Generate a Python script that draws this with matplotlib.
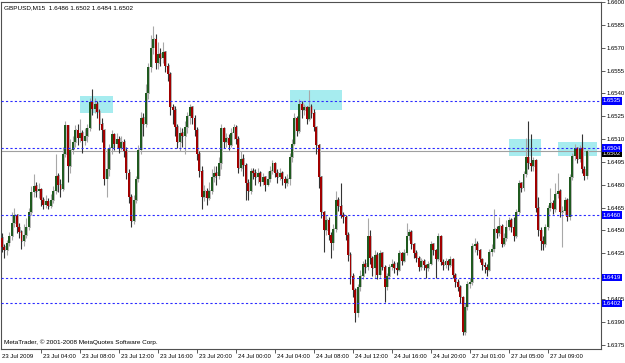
import matplotlib
matplotlib.use("Agg")
import matplotlib.pyplot as plt
from matplotlib.transforms import blended_transform_factory

# ---- data (prices in pips above 1.6000) ----
symbol_info = "GBPUSD,M15  1.6486 1.6502 1.6484 1.6502"
copyright_txt = "MetaTrader, \u00a9 2001-2008 MetaQuotes Software Corp."

first_open = 445
closes = [439, 437, 442, 446, 455, 460, 452, 449, 443, 447, 452, 462, 475, 479, 476, 477, 470, 467, 469, 466,
          470, 476, 486, 480, 477, 500, 519, 492, 503, 508, 516, 511, 514, 509, 512, 517, 534, 530, 533, 528,
          520, 516, 484, 490, 504, 513, 507, 510, 504, 508, 502, 488, 472, 456, 470, 484, 503, 524, 520, 540,
          557, 570, 576, 560, 566, 563, 567, 558, 553, 531, 529, 518, 508, 514, 512, 518, 525, 531, 524, 516,
          500, 489, 472, 476, 471, 476, 485, 488, 486, 494, 517, 508, 511, 506, 514, 518, 510, 491, 497, 493,
          481, 476, 489, 488, 485, 488, 482, 485, 480, 484, 489, 494, 488, 485, 488, 484, 481, 484, 498, 507,
          524, 515, 533, 529, 531, 523, 531, 527, 518, 506, 485, 462, 450, 457, 447, 442, 451, 470, 466, 460,
          459, 447, 434, 420, 411, 396, 413, 420, 428, 426, 446, 432, 425, 434, 421, 435, 426, 413, 420, 426,
          428, 425, 424, 435, 430, 435, 446, 449, 441, 435, 432, 426, 430, 427, 425, 428, 441, 437, 431, 446,
          429, 427, 430, 427, 431, 421, 416, 413, 406, 383, 400, 415, 416, 440, 441, 437, 431, 427, 426, 424,
          436, 438, 451, 448, 453, 441, 445, 452, 457, 452, 446, 462, 481, 478, 487, 498, 494, 492, 496, 465,
          450, 443, 441, 452, 465, 468, 464, 474, 476, 462, 463, 470, 459, 485, 499, 504, 497, 504, 490, 486,
          502]
highs = [448, 441, 444, 449, 462, 465, 461, 455, 450, 454, 458, 465, 479, 487, 482, 481, 478, 472, 473, 471,
         474, 479, 500, 488, 484, 505, 522, 519, 510, 512, 519, 520, 523, 516, 517, 520, 537, 543, 537, 535,
         530, 524, 515, 504, 507, 516, 514, 514, 512, 512, 510, 505, 490, 474, 473, 486, 506, 528, 527, 546,
         560, 578, 584, 579, 574, 570, 574, 568, 560, 554, 533, 532, 520, 518, 517, 522, 528, 533, 532, 526,
         518, 502, 492, 480, 478, 482, 490, 492, 492, 498, 520, 518, 514, 513, 517, 520, 519, 512, 502, 500,
         494, 484, 491, 491, 490, 491, 489, 488, 486, 489, 492, 496, 495, 490, 491, 489, 486, 487, 501, 510,
         527, 525, 536, 535, 533, 532, 542, 533, 530, 518, 507, 486, 463, 460, 459, 449, 454, 476, 472, 481,
         462, 460, 449, 436, 422, 412, 415, 424, 430, 431, 458, 450, 433, 437, 436, 437, 436, 427, 422, 428,
         431, 430, 429, 437, 436, 438, 455, 451, 450, 442, 437, 433, 432, 431, 428, 430, 443, 442, 438, 448,
         447, 431, 432, 431, 433, 432, 422, 418, 414, 407, 402, 417, 419, 442, 445, 443, 438, 432, 429, 428,
         438, 441, 464, 453, 459, 454, 448, 457, 459, 458, 459, 464, 483, 482, 489, 511, 522, 513, 498, 497,
         472, 452, 446, 454, 467, 478, 470, 481, 488, 477, 466, 472, 471, 487, 501, 507, 505, 506, 513, 492,
         502]
lows = [436, 432, 434, 440, 444, 452, 448, 445, 438, 440, 445, 450, 460, 472, 472, 471, 466, 464, 465, 464,
        465, 468, 474, 475, 472, 476, 498, 482, 488, 500, 505, 506, 508, 501, 506, 508, 515, 526, 527, 524,
        516, 508, 480, 472, 486, 500, 503, 504, 501, 503, 498, 484, 468, 452, 454, 468, 482, 500, 512, 518,
        536, 554, 566, 556, 556, 558, 560, 554, 548, 526, 520, 512, 504, 502, 505, 500, 514, 520, 520, 512,
        496, 485, 464, 469, 467, 470, 474, 482, 480, 484, 490, 504, 505, 503, 505, 510, 507, 488, 489, 486,
        470, 470, 474, 484, 480, 481, 479, 480, 476, 479, 482, 487, 485, 481, 483, 480, 478, 479, 480, 495,
        506, 512, 514, 524, 526, 520, 522, 524, 515, 500, 478, 458, 436, 447, 444, 432, 437, 449, 463, 458,
        455, 444, 430, 415, 406, 390, 393, 410, 418, 422, 424, 428, 420, 419, 418, 419, 424, 403, 411, 418,
        424, 422, 421, 423, 427, 429, 434, 444, 438, 432, 429, 423, 424, 424, 419, 423, 427, 434, 419, 430,
        427, 424, 425, 424, 426, 419, 413, 410, 402, 381, 381, 398, 412, 414, 436, 434, 429, 424, 422, 420,
        423, 433, 436, 445, 446, 439, 440, 443, 450, 449, 443, 445, 460, 475, 476, 485, 490, 489, 489, 462,
        446, 437, 437, 439, 450, 463, 461, 462, 471, 459, 439, 460, 456, 457, 483, 496, 494, 495, 488, 483,
        484]

level_prices = [1.6535, 1.6504, 1.6460, 1.6419, 1.6402]
bid_price = 1.6502
# highlighted zones: bar from, bar to, price low, price high
zones = [(32.1, 45.7, 1.6527, 1.6538), (118.1, 139.5, 1.6529, 1.6542),
         (208.1, 221.0, 1.6499, 1.6510), (228.3, 244.3, 1.6499, 1.6508)]

time_ticks = list(range(0, 225, 16))
time_labels = ["23 Jul 2009", "23 Jul 04:00", "23 Jul 08:00", "23 Jul 12:00", "23 Jul 16:00",
               "23 Jul 20:00", "24 Jul 00:00", "24 Jul 04:00", "24 Jul 08:00", "24 Jul 12:00",
               "24 Jul 16:00", "24 Jul 20:00", "27 Jul 01:00", "27 Jul 05:00", "27 Jul 09:00"]
price_ticks = [1.6375 + 0.0015 * k for k in range(16)]

# ---- figure ----
W, H = 625, 363
FONT = ['Liberation Sans Narrow', 'Liberation Sans', 'DejaVu Sans']
plt.rcParams['font.family'] = FONT
FS = 4.3

fig = plt.figure(figsize=(W / 100, H / 100), dpi=100, facecolor='white')
ax = fig.add_axes([1 / W, 14 / H, 600 / W, 347 / H])
ax.set_facecolor('white')

to_p = lambda v: 1.6 + v / 10000.0
opens = [first_open] + closes[:-1]
n = len(closes)

for i in range(n):
    o, c = to_p(opens[i]), to_p(closes[i])
    hi = max(to_p(highs[i]), o, c)
    lo = min(to_p(lows[i]), o, c)
    up = c >= o
    bot, top = min(o, c), max(o, c)
    hgt = max(top - bot, 0.00005)
    # grey outline shading next to the body
    ax.bar(i + 0.4, hgt + 0.0001, width=0.8, bottom=bot - 0.00005, color='#bcbcbc', zorder=2, linewidth=0)
    ax.vlines(i, lo, hi, color='#a8a8a8' if up else '#333333', linewidth=0.8, zorder=3)
    ax.bar(i, hgt, width=0.8, bottom=bot, color='#1f5a1f' if up else '#a00000', zorder=4, linewidth=0)

for x0, x1, p0, p1 in zones:
    ax.fill_between([x0, x1], p0, p1, color='#a6ecef', zorder=1, linewidth=0)

for p in level_prices:
    ax.axhline(p, color='#2b2bff', linewidth=0.8, linestyle=(0, (2, 2)), zorder=5)
ax.axhline(bid_price, color='#a0a0a0', linewidth=0.8, zorder=1.5)

ax.set_xlim(-0.41, 245.8)
ax.set_ylim(1.63721, 1.65993)

for s in ax.spines.values():
    s.set_color('#505050')
    s.set_linewidth(0.8)

# price scale: tick labels hidden under a boxed label are left empty
covered = [round(p, 4) for p in level_prices]
ylabels = []
for p in price_ticks:
    hidden = any(abs(p - q) < 0.00025 for q in covered)
    ylabels.append('' if hidden else '%.4f' % p)
ax.yaxis.tick_right()
ax.set_yticks(price_ticks)
ax.set_yticklabels(ylabels)
ax.tick_params(axis='y', direction='out', length=3, width=0.6, color='#404040',
               labelsize=FS, pad=1.0, labelcolor='black')
ax.set_xticks(time_ticks[1:])
ax.set_xticklabels([])
ax.tick_params(axis='x', direction='out', length=3, width=0.6, color='#404040')

# boxed labels on the price scale
tr = blended_transform_factory(ax.transAxes, ax.transData)
ax.text(1.003, bid_price - 0.00012, '%.4f' % bid_price, transform=tr, fontsize=FS, color='white',
        va='center', ha='left', bbox=dict(boxstyle='square,pad=0.2', fc='black', ec='none'),
        zorder=20, clip_on=False)
for p in level_prices:
    ax.text(1.003, p, '%.4f' % p, transform=tr, fontsize=FS, color='white', va='center', ha='left',
            bbox=dict(boxstyle='square,pad=0.2', fc='#0000ff', ec='none'), zorder=21, clip_on=False)

# time labels
trx = blended_transform_factory(ax.transData, fig.transFigure)
for t, lab in zip(time_ticks, time_labels):
    ax.text(t + 1.0 if t else t - 0.2, 1 - 356 / H, lab, transform=trx, fontsize=FS, ha='left', va='center',
            clip_on=False)

fig.text(4 / W, 1 - 8 / H, symbol_info, fontsize=4.6, ha='left', va='center')
fig.text(4 / W, 1 - 342 / H, copyright_txt, fontsize=4.6, ha='left', va='center')

fig.savefig('out.png', dpi=100, facecolor='white')
